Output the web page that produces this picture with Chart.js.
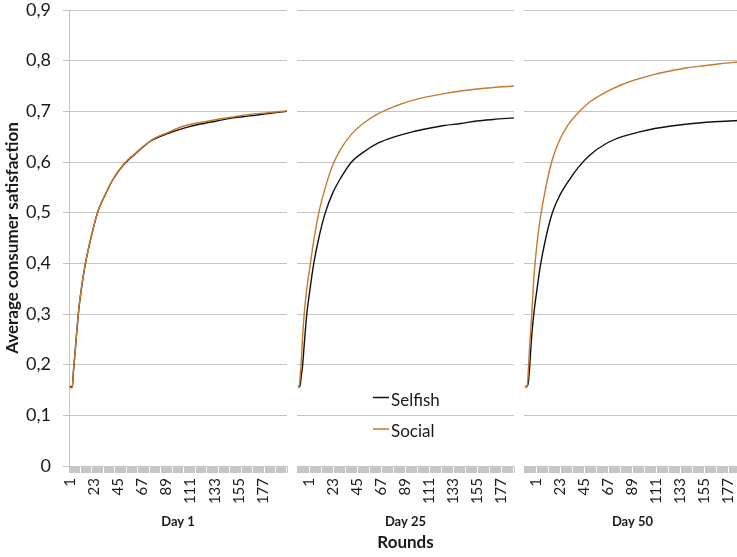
<!DOCTYPE html>
<html>
<head>
<meta charset="utf-8">
<script src="https://cdn.jsdelivr.net/npm/chart.js@4.4.1/dist/chart.umd.min.js"></script>
<style>
  html, body { margin: 0; padding: 0; background: #fff; overflow: hidden; }
  #wrap { position: relative; width: 737px; height: 557px; overflow: hidden; }
  canvas { position: absolute; top: 0; }
</style>
</head>
<body>
<div id="wrap">
  <canvas id="day1" width="300" height="557" style="left:0px"></canvas>
  <canvas id="day25" width="245" height="557" style="left:285px"></canvas>
  <canvas id="day50" width="245" height="557" style="left:512px"></canvas>
</div>
<script>
const rounds = [1, 2, 3, 4, 5, 7, 9, 12, 15, 20, 26, 33, 40, 50, 60, 75, 90, 105, 120, 135, 150, 165, 180, 199];

const day1Selfish  = [0.158, 0.156, 0.155, 0.185, 0.21, 0.262, 0.31, 0.36, 0.40, 0.45, 0.50, 0.535, 0.565, 0.595, 0.615, 0.642, 0.656, 0.667, 0.675, 0.681, 0.687, 0.691, 0.695, 0.700];
const day1Social   = [0.155, 0.154, 0.156, 0.187, 0.212, 0.264, 0.312, 0.362, 0.40, 0.45, 0.50, 0.536, 0.565, 0.596, 0.616, 0.643, 0.658, 0.671, 0.678, 0.684, 0.689, 0.694, 0.697, 0.701];
const day25Selfish = [0.158, 0.156, 0.16, 0.18, 0.195, 0.25, 0.30, 0.35, 0.395, 0.45, 0.50, 0.54, 0.568, 0.600, 0.618, 0.638, 0.650, 0.659, 0.666, 0.672, 0.676, 0.681, 0.684, 0.687];
const day25Social  = [0.157, 0.156, 0.18, 0.21, 0.25, 0.31, 0.35, 0.395, 0.44, 0.50, 0.55, 0.595, 0.625, 0.655, 0.675, 0.696, 0.710, 0.721, 0.729, 0.735, 0.740, 0.744, 0.747, 0.750];
const day50Selfish = [0.158, 0.156, 0.158, 0.165, 0.19, 0.255, 0.30, 0.35, 0.395, 0.45, 0.50, 0.535, 0.560, 0.590, 0.613, 0.636, 0.650, 0.659, 0.666, 0.671, 0.675, 0.678, 0.680, 0.682];
const day50Social  = [0.157, 0.156, 0.16, 0.19, 0.23, 0.295, 0.37, 0.44, 0.49, 0.55, 0.605, 0.645, 0.672, 0.698, 0.718, 0.738, 0.753, 0.764, 0.773, 0.780, 0.786, 0.790, 0.794, 0.798];

const xTickLabels = [1, 23, 45, 67, 89, 111, 133, 155, 177];
const yTickLabels = ['0', '0,1', '0,2', '0,3', '0,4', '0,5', '0,6', '0,7', '0,8', '0,9'];
const seriesNames = ['Selfish', 'Social'];

const FONT = 'Lato, "Open Sans", sans-serif';
const TEXT = '#1a1a1a';
const GRID = '#c4c4c4';
const SELFISH_COLOR = '#111111';
const SOCIAL_COLOR = '#c8792c';

Chart.defaults.font.family = FONT;
Chart.defaults.color = TEXT;

const toPoints = vals => rounds.map((r, i) => ({ x: r, y: vals[i] }));

// legend drawn inside the middle panel
const inlineLegend = {
  id: 'inlineLegend',
  afterDatasetsDraw(chart) {
    const ctx = chart.ctx;
    ctx.save();
    ctx.font = '17px ' + FONT;
    ctx.textBaseline = 'middle';
    seriesNames.forEach((name, i) => {
      const ds = chart.data.datasets.find(d => d.label === name);
      const y = 397.5 + i * 31.5;
      ctx.strokeStyle = ds.borderColor;
      ctx.lineWidth = 1.5;
      ctx.beginPath();
      ctx.moveTo(88, y);
      ctx.lineTo(104, y);
      ctx.stroke();
      ctx.fillStyle = TEXT;
      ctx.fillText(name, 106, y + 3);
    });
    ctx.restore();
  }
};

function makePanel(id, dayTitle, selfish, social, opts) {
  const first = opts.first;
  return new Chart(document.getElementById(id), {
    type: 'line',
    data: {
      datasets: [
        { label: 'Selfish', data: toPoints(selfish), borderColor: SELFISH_COLOR, borderWidth: 1.4,
          pointRadius: 0, cubicInterpolationMode: 'monotone', order: 1 },
        { label: 'Social', data: toPoints(social), borderColor: SOCIAL_COLOR, borderWidth: 1.4,
          pointRadius: 0, cubicInterpolationMode: 'monotone', order: 0 }
      ]
    },
    options: {
      responsive: false,
      animation: false,
      devicePixelRatio: 1,
      layout: { padding: { left: opts.padLeft, right: opts.padRight, top: 10, bottom: 0 } },
      plugins: {
        legend: { display: false },
        tooltip: { enabled: false },
        title: {
          display: true,
          position: 'bottom',
          text: opts.bottomTitle,
          font: { size: 17, weight: 'bold' },
          color: TEXT,
          padding: { top: 0, bottom: 4 }
        }
      },
      scales: {
        x: {
          type: 'linear',
          min: 0,
          max: 199,
          afterFit: s => { s.height = 66.6; s.paddingLeft = 0; s.paddingRight = 0; },
          grid: { drawOnChartArea: false, drawTicks: true, tickLength: 7, color: '#c6c6c6', lineWidth: 1 },
          border: { display: true, color: GRID },
          ticks: {
            stepSize: 1,
            autoSkip: false,
            minRotation: 90,
            maxRotation: 90,
            padding: 5,
            labelOffset: opts.labelOffset,
            font: { size: 15 },
            color: TEXT,
            callback: v => xTickLabels.includes(v) ? String(v) : ''
          },
          title: {
            display: true,
            text: dayTitle,
            font: { size: 13, weight: 'bold' },
            color: TEXT,
            padding: { top: 0, bottom: 3 }
          }
        },
        y: {
          min: 0,
          max: 0.9,
          afterFit: s => { s.width = first ? 69 : 0; s.paddingTop = 0; s.paddingBottom = 0; },
          grid: { color: GRID, lineWidth: 1, drawTicks: first, tickLength: 6 },
          border: { display: first, color: GRID },
          ticks: {
            display: first,
            stepSize: 0.1,
            padding: 12,
            font: { size: 18, lineHeight: 1 },
            color: TEXT,
            callback: (v, i) => yTickLabels[i]
          },
          title: {
            display: first,
            text: 'Average consumer satisfaction',
            font: { size: 17, weight: 'bold' },
            color: TEXT,
            padding: { top: 2, bottom: 0 }
          }
        }
      }
    },
    plugins: opts.legend ? [inlineLegend] : []
  });
}

makePanel('day1', 'Day 1', day1Selfish, day1Social,
  { first: true, padLeft: 0, padRight: 13, labelOffset: 0, bottomTitle: '', legend: false });
makePanel('day25', 'Day 25', day25Selfish, day25Social,
  { first: false, padLeft: 12, padRight: 16, labelOffset: 11, bottomTitle: 'Rounds', legend: true });
makePanel('day50', 'Day 50', day50Selfish, day50Social,
  { first: false, padLeft: 12, padRight: 16, labelOffset: 11, bottomTitle: '', legend: false });
</script>
</body>
</html>
